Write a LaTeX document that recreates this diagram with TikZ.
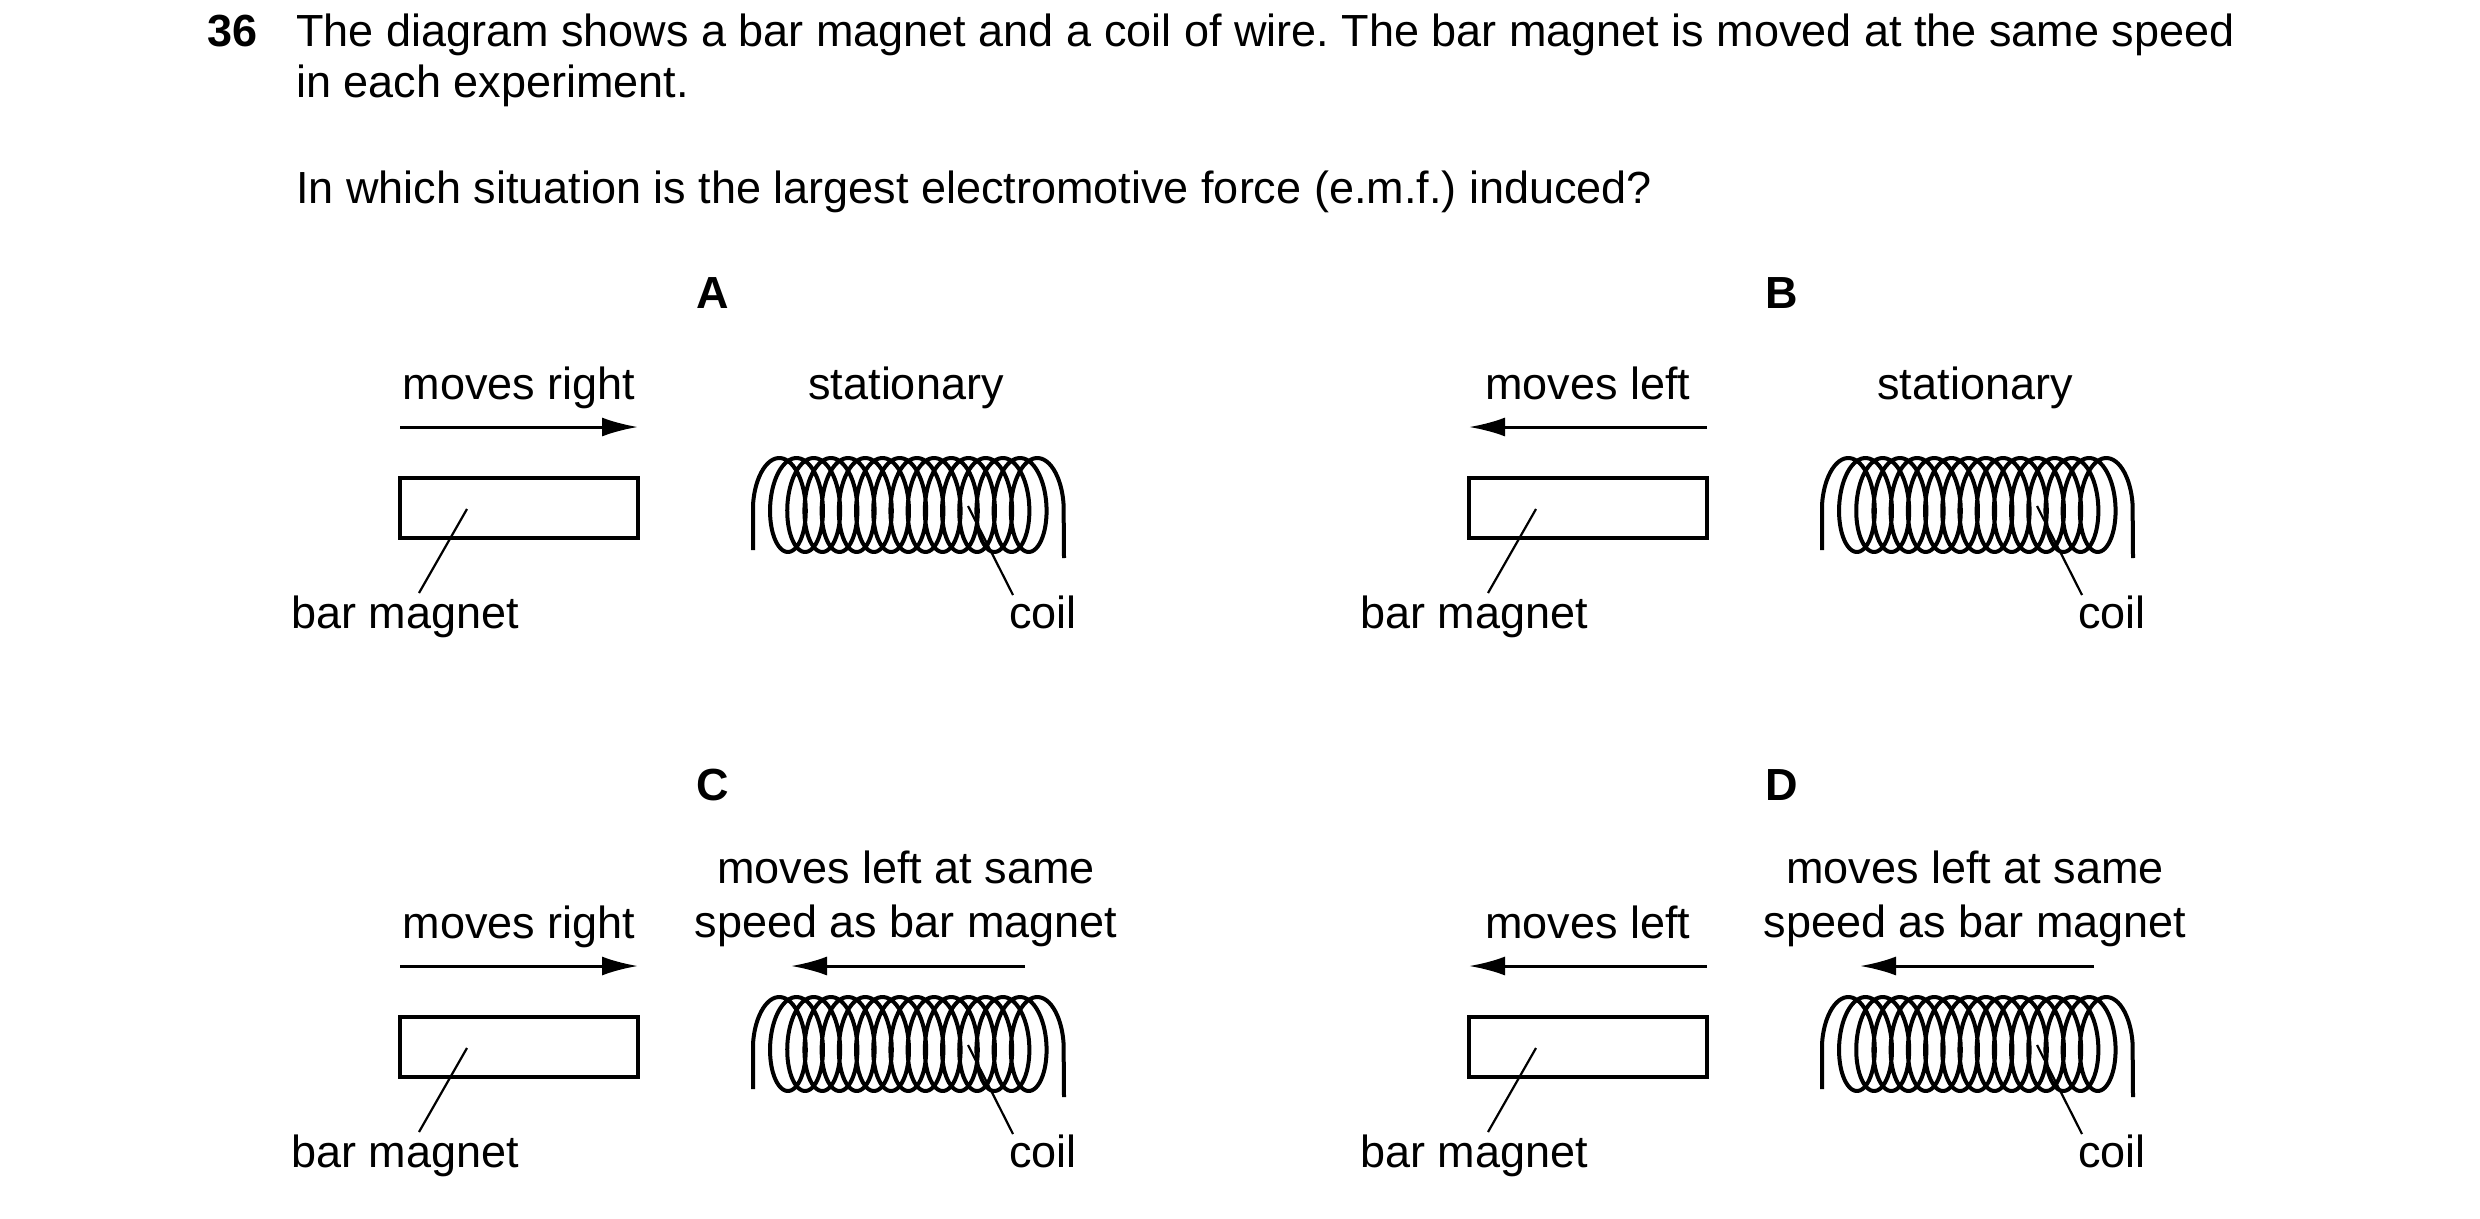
\documentclass[tikz,border=0pt]{standalone}
\usepackage{fontspec}
\setmainfont{Liberation Sans}
\usetikzlibrary{arrows.meta}
\begin{document}
\frenchspacing
\begin{tikzpicture}[x=1pt,y=-1pt,
  txt/.style={inner sep=0,anchor=base,font=\fontsize{45}{54}\selectfont},
  hd/.style={inner sep=0,anchor=base,font=\fontsize{45}{54}\selectfont\bfseries},
  arr/.style={line width=3pt,-{Latex[length=36pt,width=19pt]}},
  lead/.style={line width=2.2pt},
  wire/.style={line width=4pt}]
\useasboundingbox (0,0) rectangle (2480,1218);
\newcommand\barmag[3]{%
  \node[txt] (mtext) at (519,399) {#1};
  \coordinate (ma) at (#2,427); \coordinate (mb) at (#3,427);
  \draw[arr] (ma) -- (mb);
  \node[draw,line width=3.5pt,minimum width=238,minimum height=60,inner sep=0] (mag) at (519,508) {};
  \coordinate (ml1) at (467,509); \coordinate (ml2) at (419,593);
  \draw[lead] (ml1) -- (ml2);
  \node[txt] (mlab) at (405,628) {bar magnet};}
\newcommand\coil{%
  \coordinate (c0) at (753,550); \coordinate (c1) at (1064,558);
  \draw[wire] (c0) -- (753,505)
    plot[domain=0:5580,samples=900,smooth] ({775+17.2*(\x/360)-22*cos(\x)},{505-47*sin(\x)})
    -- (c1);
  \coordinate (cl1) at (968,506); \coordinate (cl2) at (1013,595);
  \draw[lead] (cl1) -- (cl2);
  \node[txt] (clab) at (1043,628) {coil};}
\node[hd,anchor=base west] (n36) at (207,46) {36};
\node[txt,anchor=base west] (q1) at (296,46) {The diagram shows a bar magnet and a coil of wire. The bar magnet is moved at the same speed};
\node[txt,anchor=base west] (q2) at (296,97) {in each experiment.};
\node[txt,anchor=base west] (q3) at (296,203) {In which situation is the largest electromotive force (e.m.f.) induced?};
% A
\begin{scope}[name prefix=A-]
\node[hd] (lab) at (713,308) {A};
\barmag{moves right}{400}{638}
\node[txt] (ct) at (906,399) {stationary};
\coil
\end{scope}
% B
\begin{scope}[shift={(1069,0)},name prefix=B-]
\node[hd] (lab) at (713,308) {B};
\barmag{moves left}{638}{400}
\node[txt] (ct) at (906,399) {stationary};
\coil
\end{scope}
% C
\begin{scope}[shift={(0,539)},name prefix=C-]
\node[hd] (lab) at (713,261) {C};
\barmag{moves right}{400}{638}
\node[txt] (ct1) at (906,344) {moves left at same};
\node[txt] (ct2) at (906,398) {speed as bar magnet};
\coordinate (ca) at (1025,427); \coordinate (cb) at (791,427);
\draw[arr] (ca) -- (cb);
\coil
\end{scope}
% D
\begin{scope}[shift={(1069,539)},name prefix=D-]
\node[hd] (lab) at (713,261) {D};
\barmag{moves left}{638}{400}
\node[txt] (ct1) at (906,344) {moves left at same};
\node[txt] (ct2) at (906,398) {speed as bar magnet};
\coordinate (ca) at (1025,427); \coordinate (cb) at (791,427);
\draw[arr] (ca) -- (cb);
\coil
\end{scope}
\end{tikzpicture}
\end{document}
